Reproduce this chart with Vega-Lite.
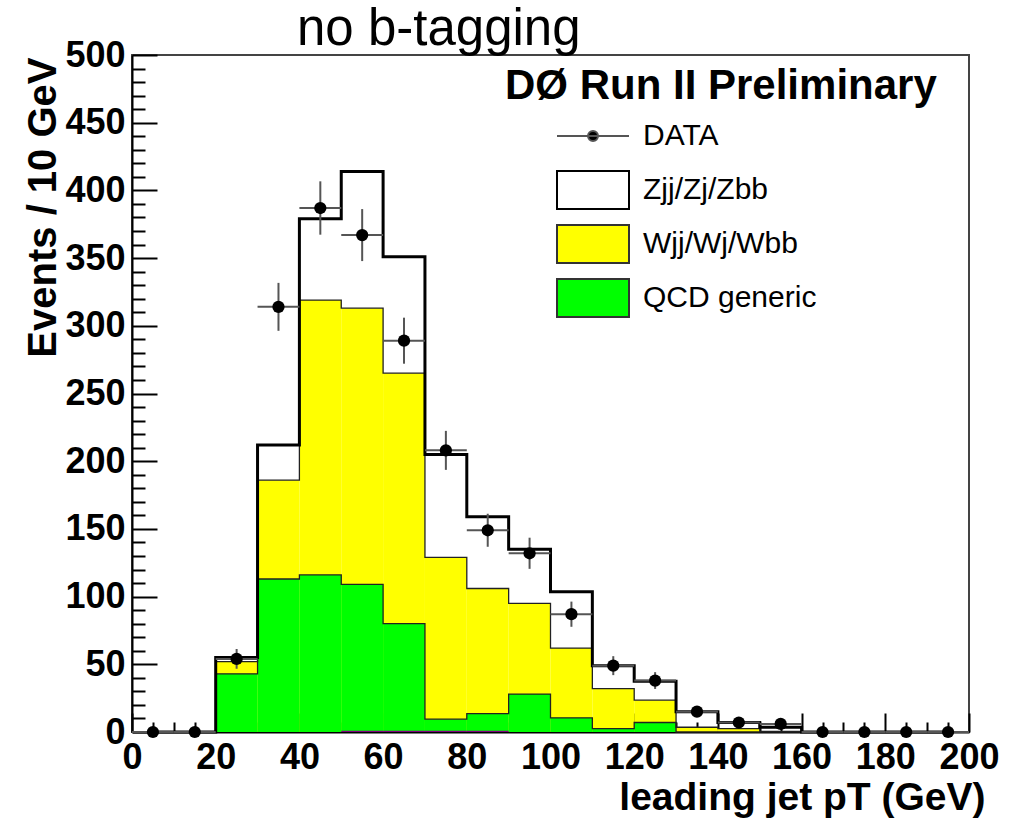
{
  "$schema": "https://vega.github.io/schema/vega-lite/v6.json",
  "width": 837,
  "height": 677,
  "autosize": {"type": "none"},
  "padding": {"left": 132, "top": 55, "right": 49, "bottom": 91},
  "background": "white",
  "config": {
    "view": {"stroke": "#444444", "strokeWidth": 2},
    "font": "Liberation Sans"
  },
  "title": {
    "text": "no b-tagging",
    "font": "Liberation Sans",
    "fontSize": 51,
    "fontWeight": "normal",
    "color": "black",
    "anchor": "start",
    "frame": "group",
    "dx": 165,
    "baseline": "alphabetic",
    "offset": -59
  },
  "datasets": {
    "bins": [
      {"lo": 0, "hi": 10, "c": 5, "qcd": 0, "w": 0, "tot": 0, "pur": 0, "n": 0, "elo": 0, "ehi": 0},
      {"lo": 10, "hi": 20, "c": 15, "qcd": 0, "w": 0, "tot": 0, "pur": 0, "n": 0, "elo": 0, "ehi": 0},
      {"lo": 20, "hi": 30, "c": 25, "qcd": 43, "w": 52, "tot": 55, "pur": 0, "n": 54, "elo": 46.7, "ehi": 61.3},
      {"lo": 30, "hi": 40, "c": 35, "qcd": 113, "w": 186, "tot": 212, "pur": 0, "n": 314, "elo": 296.3, "ehi": 331.7},
      {"lo": 40, "hi": 50, "c": 45, "qcd": 116, "w": 319, "tot": 379, "pur": 0, "n": 387, "elo": 367.3, "ehi": 406.7},
      {"lo": 50, "hi": 60, "c": 55, "qcd": 109, "w": 313, "tot": 414, "pur": 1, "n": 367, "elo": 347.8, "ehi": 386.2},
      {"lo": 60, "hi": 70, "c": 65, "qcd": 80, "w": 265, "tot": 351, "pur": 1, "n": 289, "elo": 272, "ehi": 306},
      {"lo": 70, "hi": 80, "c": 75, "qcd": 9.5, "w": 129, "tot": 205, "pur": 1, "n": 208, "elo": 193.6, "ehi": 222.4},
      {"lo": 80, "hi": 90, "c": 85, "qcd": 13.5, "w": 106, "tot": 159, "pur": 1, "n": 149, "elo": 136.8, "ehi": 161.2},
      {"lo": 90, "hi": 100, "c": 95, "qcd": 28, "w": 95, "tot": 135, "pur": 0, "n": 132, "elo": 120.5, "ehi": 143.5},
      {"lo": 100, "hi": 110, "c": 105, "qcd": 10.5, "w": 62, "tot": 103.5, "pur": 0, "n": 87, "elo": 77.7, "ehi": 96.3},
      {"lo": 110, "hi": 120, "c": 115, "qcd": 2.5, "w": 32, "tot": 49, "pur": 0, "n": 49, "elo": 42, "ehi": 56},
      {"lo": 120, "hi": 130, "c": 125, "qcd": 7, "w": 23.5, "tot": 37.5, "pur": 0, "n": 38, "elo": 31.8, "ehi": 44.2},
      {"lo": 130, "hi": 140, "c": 135, "qcd": 0, "w": 3.5, "tot": 15, "pur": 0, "n": 15, "elo": 11.1, "ehi": 18.9},
      {"lo": 140, "hi": 150, "c": 145, "qcd": 0, "w": 2.5, "tot": 7, "pur": 0, "n": 7, "elo": 4.4, "ehi": 9.6},
      {"lo": 150, "hi": 160, "c": 155, "qcd": 0, "w": 0.5, "tot": 3.5, "pur": 0, "n": 6, "elo": 3.6, "ehi": 8.4},
      {"lo": 160, "hi": 170, "c": 165, "qcd": 0, "w": 0, "tot": 0, "pur": 0, "n": 0, "elo": 0, "ehi": 0},
      {"lo": 170, "hi": 180, "c": 175, "qcd": 0, "w": 0, "tot": 0, "pur": 0, "n": 0, "elo": 0, "ehi": 0},
      {"lo": 180, "hi": 190, "c": 185, "qcd": 0, "w": 0, "tot": 0, "pur": 0, "n": 0, "elo": 0, "ehi": 0},
      {"lo": 190, "hi": 200, "c": 195, "qcd": 0, "w": 0, "tot": 0, "pur": 0, "n": 0, "elo": 0, "ehi": 0}
    ],
    "legend": [
      {"series": "DATA"},
      {"series": "Zjj/Zj/Zbb"},
      {"series": "Wjj/Wj/Wbb"},
      {"series": "QCD generic"}
    ]
  },
  "data": {"name": "bins"},
  "resolve": {"axis": {"x": "independent", "y": "independent"}},
  "layer": [
    {
      "mark": {"type": "rect", "color": "#ffff00"},
      "encoding": {
        "x": {
          "field": "lo", "type": "quantitative",
          "scale": {"domain": [0, 200], "nice": false, "zero": false},
          "axis": {
            "orient": "bottom",
            "values": [0, 20, 40, 60, 80, 100, 120, 140, 160, 180, 200],
            "format": "d",
            "grid": false,
            "tickSize": -19, "tickWidth": 2, "tickColor": "black",
            "domainColor": "black", "domainWidth": 2,
            "labelFont": "Liberation Sans", "labelFontSize": 36, "labelFontWeight": "bold",
            "labelColor": "black", "labelPadding": 27, "labelFlush": false, "labelOverlap": false,
            "title": "leading jet pT (GeV)",
            "titleFont": "Liberation Sans", "titleFontSize": 39, "titleFontWeight": "bold", "titleColor": "black",
            "titleAnchor": "end", "titleAlign": "right", "titleBaseline": "alphabetic",
            "titleX": 853, "titleY": 77
          }
        },
        "x2": {"field": "hi"},
        "y": {
          "field": "w", "type": "quantitative",
          "scale": {"domain": [0, 500], "nice": false},
          "axis": {
            "orient": "left",
            "values": [0, 50, 100, 150, 200, 250, 300, 350, 400, 450, 500],
            "format": "d",
            "grid": false,
            "tickSize": -25, "tickWidth": 2, "tickColor": "black",
            "domainColor": "black", "domainWidth": 2,
            "labelFont": "Liberation Sans", "labelFontSize": 36, "labelFontWeight": "bold",
            "labelColor": "black", "labelPadding": 32, "labelFlush": false, "labelOverlap": false,
            "title": "Events / 10 GeV",
            "titleFont": "Liberation Sans", "titleFontSize": 40, "titleFontWeight": "bold", "titleColor": "black",
            "titleAnchor": "end", "titleAngle": -90, "titleAlign": "right", "titleBaseline": "alphabetic",
            "titleX": -77, "titleY": 2
          }
        },
        "y2": {"datum": 0}
      }
    },
    {
      "mark": {"type": "rect", "color": "#00ff00"},
      "encoding": {
        "x": {
          "field": "lo", "type": "quantitative",
          "axis": {
            "orient": "bottom",
            "values": [5, 10, 15, 25, 30, 35, 45, 50, 55, 65, 70, 75, 85, 90, 95, 105, 110, 115, 125, 130, 135, 145, 150, 155, 165, 170, 175, 185, 190, 195],
            "labels": false, "domain": false, "grid": false, "title": null,
            "tickSize": -10, "tickWidth": 2, "tickColor": "black"
          }
        },
        "x2": {"field": "hi"},
        "y": {
          "field": "qcd", "type": "quantitative",
          "axis": {
            "orient": "left",
            "values": [10, 20, 30, 40, 60, 70, 80, 90, 110, 120, 130, 140, 160, 170, 180, 190, 210, 220, 230, 240, 260, 270, 280, 290, 310, 320, 330, 340, 360, 370, 380, 390, 410, 420, 430, 440, 460, 470, 480, 490],
            "labels": false, "domain": false, "grid": false, "title": null,
            "tickSize": -13, "tickWidth": 2, "tickColor": "black"
          }
        },
        "y2": {"datum": 0}
      }
    },
    {
      "mark": {"type": "rect", "color": "#800080"},
      "encoding": {
        "x": {"field": "lo", "type": "quantitative", "axis": null},
        "x2": {"field": "hi"},
        "y": {"field": "pur", "type": "quantitative", "axis": null},
        "y2": {"datum": 0}
      }
    },
    {
      "mark": {"type": "line", "interpolate": "step", "color": "#222222", "strokeWidth": 1.3},
      "encoding": {
        "x": {"field": "c", "type": "quantitative", "axis": null},
        "y": {"field": "qcd", "type": "quantitative", "axis": null}
      }
    },
    {
      "mark": {"type": "line", "interpolate": "step", "color": "#222222", "strokeWidth": 1.3},
      "encoding": {
        "x": {"field": "c", "type": "quantitative", "axis": null},
        "y": {"field": "w", "type": "quantitative", "axis": null}
      }
    },
    {
      "mark": {"type": "line", "interpolate": "step", "color": "black", "strokeWidth": 3},
      "encoding": {
        "x": {"field": "c", "type": "quantitative", "axis": null},
        "y": {"field": "tot", "type": "quantitative", "axis": null}
      }
    },
    {
      "mark": {"type": "rule", "color": "#555555", "strokeWidth": 2},
      "encoding": {
        "x": {"field": "c", "type": "quantitative", "axis": null},
        "y": {"field": "elo", "type": "quantitative", "axis": null},
        "y2": {"field": "ehi"}
      }
    },
    {
      "mark": {"type": "rule", "color": "#555555", "strokeWidth": 2},
      "encoding": {
        "x": {"field": "lo", "type": "quantitative", "axis": null},
        "x2": {"field": "hi"},
        "y": {"field": "n", "type": "quantitative", "axis": null}
      }
    },
    {
      "mark": {"type": "point", "shape": "circle", "filled": true, "color": "black", "opacity": 1, "size": 150},
      "encoding": {
        "x": {"field": "c", "type": "quantitative", "axis": null},
        "y": {"field": "n", "type": "quantitative", "axis": null}
      }
    },
    {
      "data": {"name": "legend"},
      "mark": {"type": "point", "filled": true, "opacity": 1, "size": 2500, "strokeWidth": 2, "clip": true},
      "encoding": {
        "x": {"datum": -100, "type": "quantitative", "axis": null, "scale": {"domain": [0, 200], "nice": false, "zero": false}},
        "y": {"datum": 0, "type": "quantitative", "axis": null, "scale": {"domain": [0, 500], "nice": false}},
        "fill": {
          "field": "series", "type": "nominal",
          "scale": {"domain": ["DATA", "Zjj/Zj/Zbb", "Wjj/Wj/Wbb", "QCD generic"], "range": ["black", "white", "#ffff00", "#00ff00"]},
          "legend": {
            "orient": "none", "legendX": 373, "legendY": 11,
            "title": "DØ Run II Preliminary",
            "titleFont": "Liberation Sans", "titleFontSize": 42, "titleFontWeight": "bold", "titleColor": "black",
            "titleLimit": 0, "titlePadding": 1,
            "labelFont": "Liberation Sans", "labelFontSize": 30, "labelColor": "black", "labelLimit": 0,
            "labelOffset": 24,
            "symbolOffset": 62, "symbolSize": 2500, "symbolStrokeWidth": 2, "symbolOpacity": 1,
            "clipHeight": 54, "rowPadding": 0, "padding": 0
          }
        },
        "stroke": {
          "field": "series", "type": "nominal",
          "scale": {"domain": ["DATA", "Zjj/Zj/Zbb", "Wjj/Wj/Wbb", "QCD generic"], "range": ["#555555", "black", "#333333", "#333333"]}
        },
        "shape": {
          "field": "series", "type": "nominal",
          "scale": {"domain": ["DATA", "Zjj/Zj/Zbb", "Wjj/Wj/Wbb", "QCD generic"], "range": ["M-1.44,0H1.44M0.2,0A0.2,0.2 0 1,1 -0.2,0A0.2,0.2 0 1,1 0.2,0Z", "M-1.44,-0.76H1.44V0.76H-1.44Z", "M-1.44,-0.76H1.44V0.76H-1.44Z", "M-1.44,-0.76H1.44V0.76H-1.44Z"]}
        }
      }
    }
  ]
}
